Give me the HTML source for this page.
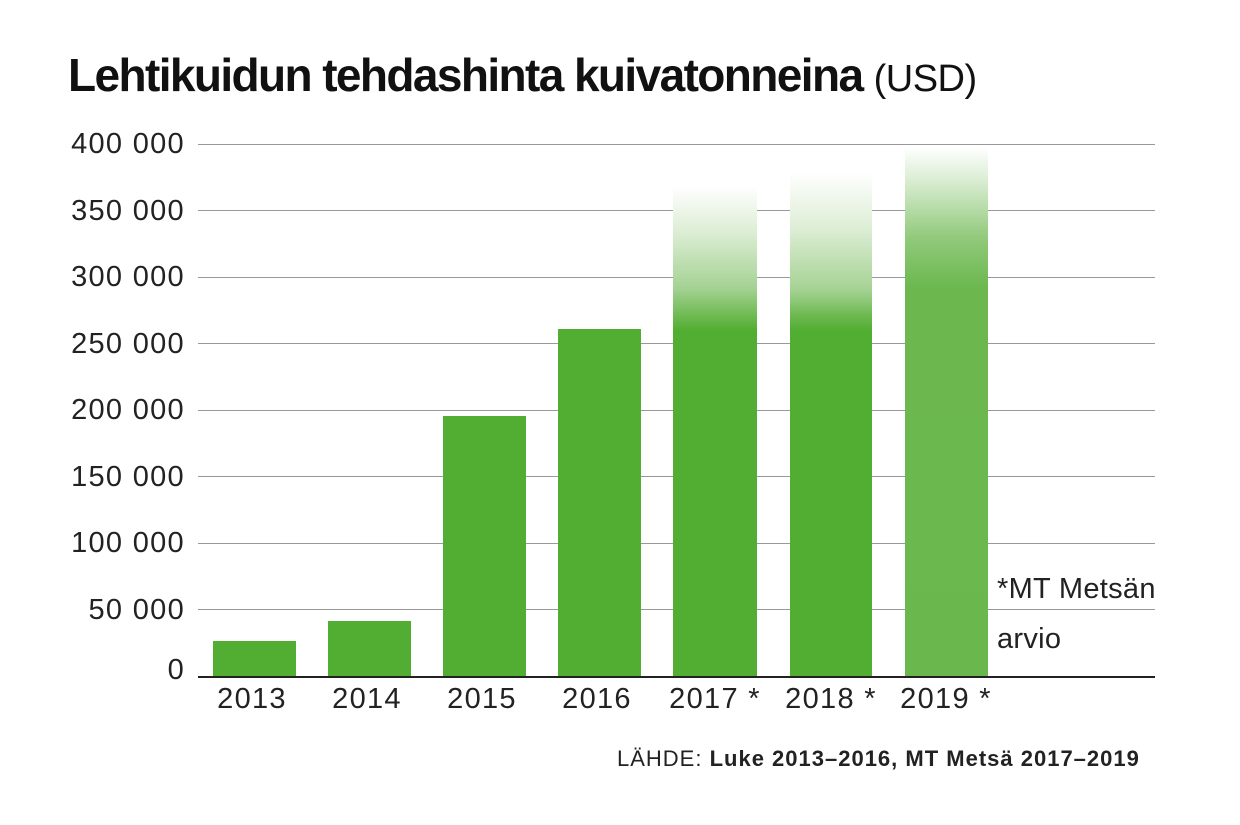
<!DOCTYPE html><html><head><style>
body{margin:0;width:1240px;height:825px;background:#fff;font-family:"Liberation Sans",sans-serif;position:relative;overflow:hidden}
.t{position:absolute;white-space:nowrap;color:#222}
.g{position:absolute;left:198px;width:957px;height:1px;background:#999}
.b{position:absolute;background:#52ae32}
.yl{position:absolute;right:1055px;font-size:29px;letter-spacing:1.3px;color:#222}
.xl{position:absolute;top:683px;font-size:29px;letter-spacing:1.3px;color:#222;width:120px;text-align:center}
</style></head><body>
<div class="t" style="left:68px;top:48px;font-size:46px;font-weight:bold;letter-spacing:-1.6px;color:#111">Lehtikuidun tehdashinta kuivatonneina <span style="font-weight:normal;font-size:38px;letter-spacing:-0.5px">(USD)</span></div>
<div class="g" style="top:144px"></div><div class="g" style="top:210px"></div><div class="g" style="top:277px"></div><div class="g" style="top:343px"></div><div class="g" style="top:410px"></div><div class="g" style="top:476px"></div><div class="g" style="top:543px"></div><div class="g" style="top:609px"></div>
<div style="position:absolute;left:198px;top:676px;width:957px;height:2px;background:#222"></div>
<div class="yl" style="top:128px">400 000</div><div class="yl" style="top:195px">350 000</div><div class="yl" style="top:261px">300 000</div><div class="yl" style="top:328px">250 000</div><div class="yl" style="top:394px">200 000</div><div class="yl" style="top:461px">150 000</div><div class="yl" style="top:527px">100 000</div><div class="yl" style="top:594px">50 000</div><div class="yl" style="top:654px">0</div>
<div class="b" style="left:213px;top:641px;width:83px;height:35px"></div>
<div class="b" style="left:328px;top:621px;width:83px;height:55px"></div>
<div class="b" style="left:443px;top:416px;width:83px;height:260px"></div>
<div class="b" style="left:558px;top:329px;width:83px;height:347px"></div>
<div class="b" style="left:673px;top:178px;width:84px;height:498px;background:linear-gradient(#fff 0,#fff 8px,#dcedd4 55px,#a5d293 110px,#6ab84d 140px,#52ae32 152px)"></div>
<div class="b" style="left:790px;top:165px;width:82px;height:511px;background:linear-gradient(#fff 0,#fff 8px,#dcedd4 65px,#a5d293 125px,#6ab84d 152px,#52ae32 165px)"></div>
<div class="b" style="left:905px;top:147px;width:83px;height:529px;background:linear-gradient(#fff 0,#d8ecd0 35px,#92ca7c 90px,#6cb84f 140px,#6ab84d 529px)"></div>
<div class="xl" style="left:192px">2013</div><div class="xl" style="left:307px">2014</div><div class="xl" style="left:422px">2015</div><div class="xl" style="left:537px">2016</div><div class="xl" style="left:655px">2017 *</div><div class="xl" style="left:771px">2018 *</div><div class="xl" style="left:886px">2019 *</div>
<div class="t" style="left:997px;top:573px;font-size:29px;letter-spacing:0.3px">*MT Metsän</div>
<div class="t" style="left:997px;top:623px;font-size:29px;letter-spacing:0.3px">arvio</div>
<div class="t" style="left:617px;top:746px;font-size:22px;letter-spacing:1px">LÄHDE: <b>Luke 2013–2016, MT Metsä 2017–2019</b></div>
</body></html>
